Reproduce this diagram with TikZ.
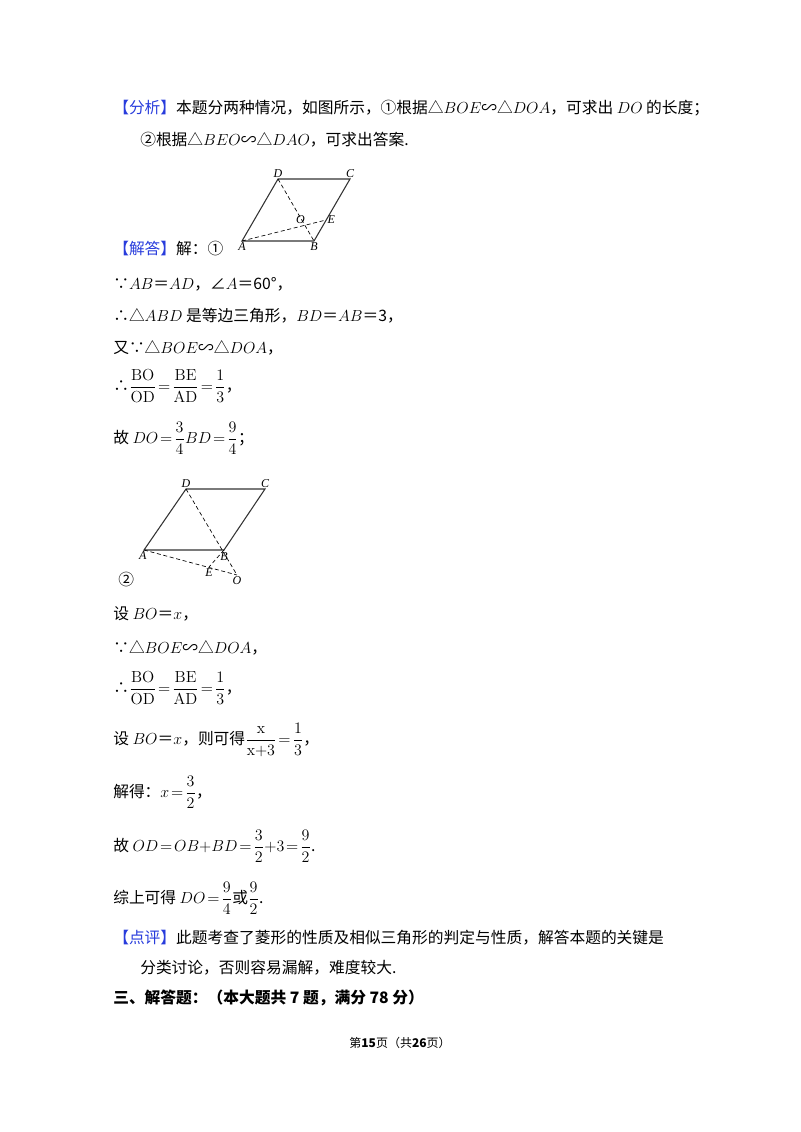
\documentclass[tikz,border=0pt]{standalone}
\usepackage{amsmath}
\usepackage[no-math]{fontspec}
\setmainfont{Noto Sans CJK SC}
\newfontfamily\latin{Liberation Serif}
\usetikzlibrary{positioning}
\definecolor{tagblue}{RGB}{40,60,220}

\tikzset{
  line/.style={anchor=west, inner sep=0pt, font=\fontsize{11.8}{14}\selectfont},
  edge/.style={line width=0.8pt, black!80},
  aux/.style={dashed, line width=0.5pt, dash pattern=on 3pt off 2pt},
  pt/.style={inner sep=1pt, font=\fontsize{9}{10}\selectfont\latin\itshape}
}
\newcommand{\tagb}[1]{{\color{tagblue}【#1】}}

\begin{document}
\begin{tikzpicture}[x=0.75pt,y=-0.75pt]
\useasboundingbox (0,0) rectangle (800,1132);

% analysis
\node[line] (l1) at (113,108) {\tagb{分析}本题分两种情况，如图所示，①根据△$BOE$∽△$DOA$，可求出 $DO$ 的长度；};
\node[line] (l2) at (140,140) {②根据△$BEO$∽△$DAO$，可求出答案.};

% figure 1
\coordinate (A) at (242,241);
\coordinate (B) at (314,241);
\coordinate (C) at (350,179);
\coordinate (D) at (278,179);
\coordinate (O) at (305,225.5);
\coordinate (E) at (326,220);
\draw[edge] (A) -- (B) -- (C) -- (D) -- cycle;
\draw[aux] (D) -- (B);
\draw[aux] (A) -- (E);
\node[pt, above] (lD) at (D) {D};
\node[pt, above] (lC) at (C) {C};
\node[pt, above left=0pt and -1pt] (lO) at (O) {O};
\node[pt, right] (lE) at (E) {E};
\node[pt, below] (lA) at (A) {A};
\node[pt, below] (lB) at (B) {B};

\node[line] (l3) at (113,249) {\tagb{解答}解：①};
\node[line] (l4) at (113,284) {∵$AB$＝$AD$，∠$A$＝60°，};
\node[line] (l5) at (113,316) {∴△$ABD$ 是等边三角形，$BD$＝$AB$＝3，};
\node[line] (l6) at (113,348) {又∵△$BOE$∽△$DOA$，};
\node[line] (l7) at (113,386) {∴$\dfrac{\mathrm{BO}}{\mathrm{OD}}\!=\!\dfrac{\mathrm{BE}}{\mathrm{AD}}\!=\!\dfrac{1}{3}$，};
\node[line] (l8) at (113,438) {故 $DO\!=\!\dfrac{3}{4}BD\!=\!\dfrac{9}{4}$；};

% figure 2
\coordinate (A2) at (144,550);
\coordinate (B2) at (224,550);
\coordinate (C2) at (265,489);
\coordinate (D2) at (186,489);
\coordinate (E2) at (209,567);
\coordinate (O2) at (237,575);
\draw[edge] (A2) -- (B2) -- (C2) -- (D2) -- cycle;
\draw[aux] (D2) -- (O2);
\draw[aux] (A2) -- (O2);
\draw[aux] (B2) -- (E2);
\node[pt, above] (lD2) at (D2) {D};
\node[pt, above] (lC2) at (C2) {C};
\node[pt, below left=0pt and -3pt] (lA2) at (A2) {A};
\node[pt, below=1pt] (lB2) at (B2) {B};
\node[pt, below=0pt] (lE2) at (E2) {E};
\node[pt, below=0pt] (lO2) at (O2) {O};
\node[line] (c2) at (118,580) {②};

\node[line] (l9) at (113,614) {设 $BO$＝$x$，};
\node[line] (l10) at (113,648) {∵△$BOE$∽△$DOA$，};
\node[line] (l11) at (113,688) {∴$\dfrac{\mathrm{BO}}{\mathrm{OD}}\!=\!\dfrac{\mathrm{BE}}{\mathrm{AD}}\!=\!\dfrac{1}{3}$，};
\node[line] (l12) at (113,740) {设 $BO$＝$x$，则可得$\dfrac{\mathrm{x}}{\mathrm{x{+}3}}\!=\!\dfrac{1}{3}$，};
\node[line] (l13) at (113,792) {解得：$x\!=\!\dfrac{3}{2}$，};
\node[line] (l14) at (113,846) {故 $OD\!=\!OB{+}BD\!=\!\dfrac{3}{2}{+}3\!=\!\dfrac{9}{2}$.};
\node[line] (l15) at (113,898) {综上可得 $DO\!=\!\dfrac{9}{4}$或$\dfrac{9}{2}$.};

% comment
\node[line] (l16) at (113,938) {\tagb{点评}此题考查了菱形的性质及相似三角形的判定与性质，解答本题的关键是};
\node[line] (l17) at (140,968) {分类讨论，否则容易漏解，难度较大.};
\node[line, font=\fontsize{11.8}{14}\selectfont\bfseries] (l18) at (113,998) {三、解答题：（本大题共 7 题，满分 78 分）};

% footer
\node[inner sep=0pt, font=\fontsize{9}{11}\selectfont] (foot) at (400,1043) {第\textbf{15}页（共\textbf{26}页）};
\end{tikzpicture}
\end{document}
